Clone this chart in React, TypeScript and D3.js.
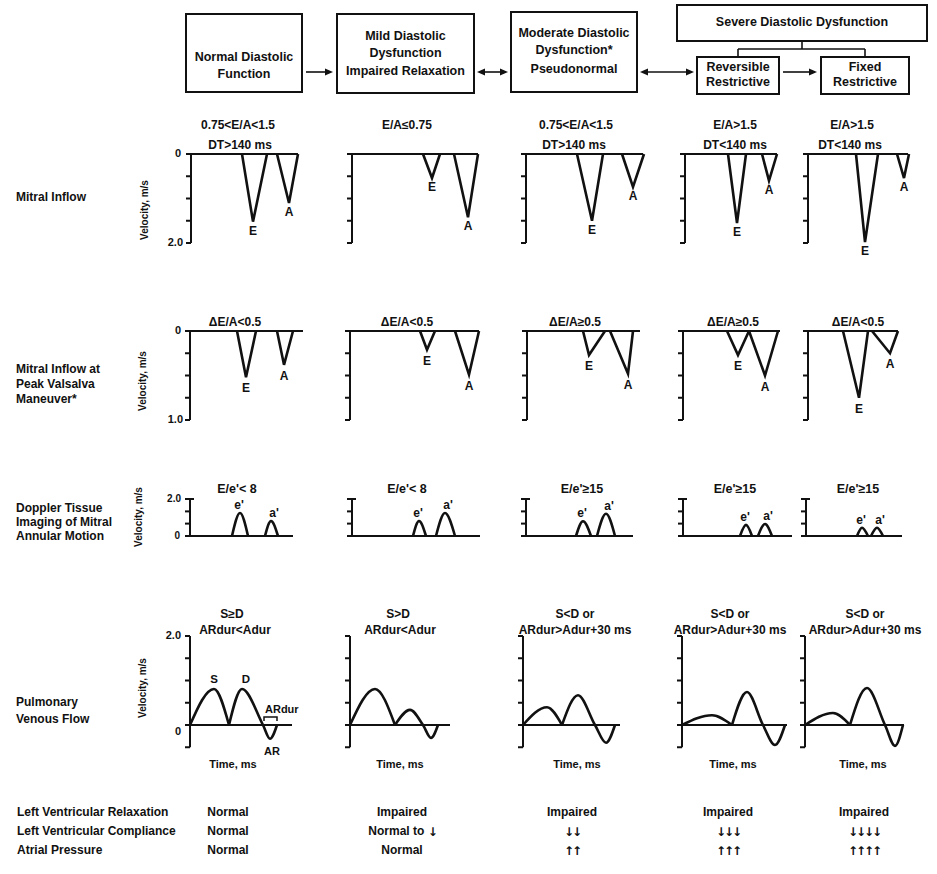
import React from "react";
import * as d3 from "d3";

// ---------- DATA ----------
// Mitral inflow (velocity m/s, time units from panel origin): [start, peakTime, end, peakVelocity]
const mitralEnd = [107, 126, 117, 92, 100];
const mitralE = [[51, 62, 76, 1.52], [71, 80, 88, 0.54], [51, 66, 77, 1.5], [43, 52, 61, 1.55], [48, 57, 70, 1.98]];
const mitralA = [[86, 98, 107, 1.1], [102, 116, 126, 1.42], [96, 107, 118, 0.74], [77, 84, 92, 0.6], [89, 96, 101, 0.54]];
const mitralTicks = [0, 0.5, 1, 1.5, 2];

// Mitral inflow at peak Valsalva
const valsalvaEnd = [113, 129, 113, 97, 90];
const valsalvaE = [[47, 56, 66, 0.52], [70, 77, 85, 0.21], [56, 62, 78, 0.27], [44, 55, 66, 0.27], [35, 51, 60, 0.75]];
const valsalvaA = [[87, 94, 103, 0.38], [105, 119, 129, 0.49], [83, 101, 106, 0.48], [66, 82, 95, 0.5], [64, 82, 90, 0.25]];
const valsalvaTicks = [0, 0.25, 0.5, 0.75, 1];

// Doppler tissue imaging
const dtiEnd = [103, 128, 107, 109, 96];
const dtiE = [[42, 50, 58, 1.24], [61, 67, 74, 0.81], [50, 57, 65, 0.8], [57, 63, 69, 0.6], [51, 56, 62, 0.45]];
const dtiA = [[75, 81, 88, 0.81], [84, 93, 103, 1.24], [71, 80, 89, 1.2], [75, 82, 89, 0.65], [65, 71, 77, 0.45]];
const dtiTicks = [0, 0.67, 1.33, 2];

// Pulmonary venous flow
const pvEnd = [102, 100, 97, 105, 99];
const pvS = [[0, 24, 39, 0.81], [0, 25, 45, 0.81], [0, 24, 39, 0.4], [0, 30, 50, 0.22], [0, 28, 45, 0.27]];
const pvD = [[39, 52, 73, 0.81], [45, 60, 73, 0.34], [39, 55, 72, 0.67], [50, 65, 81, 0.74], [45, 62, 80, 0.83]];
const pvAR = [[80, 87, -0.31], [81, 88, -0.29], [83, 92, -0.4], [93, 103, -0.45], [90, 98, -0.47]];
const pvTicks = [-0.5, 0, 0.5, 1, 1.5, 2];

// Texts
const stageBoxes = [
  ["Normal Diastolic", "Function"],
  ["Mild Diastolic", "Dysfunction", "Impaired Relaxation"],
  ["Moderate Diastolic", "Dysfunction*", "Pseudonormal"],
  ["Severe Diastolic Dysfunction"],
  ["Reversible", "Restrictive"],
  ["Fixed", "Restrictive"],
];
const mitralSub1 = ["0.75<E/A<1.5", "E/A≤0.75", "0.75<E/A<1.5", "E/A>1.5", "E/A>1.5"];
const mitralSub2 = ["DT>140 ms", "", "DT>140 ms", "DT<140 ms", "DT<140 ms"];
const valsalvaSub = ["ΔE/A<0.5", "ΔE/A<0.5", "ΔE/A≥0.5", "ΔE/A≥0.5", "ΔE/A<0.5"];
const dtiSub = ["E/e'< 8", "E/e'< 8", "E/e'≥15", "E/e'≥15", "E/e'≥15"];
const pvSub1 = ["S≥D", "S>D", "S<D or", "S<D or", "S<D or"];
const pvSub2 = ["ARdur<Adur", "ARdur<Adur", "ARdur>Adur+30 ms", "ARdur>Adur+30 ms", "ARdur>Adur+30 ms"];
const rowHeaders = [
  ["Mitral Inflow"],
  ["Mitral Inflow at", "Peak Valsalva", "Maneuver*"],
  ["Doppler Tissue", "Imaging of Mitral", "Annular Motion"],
  ["Pulmonary", "Venous Flow"],
];
const tableLabels = ["Left Ventricular Relaxation", "Left Ventricular Compliance", "Atrial Pressure"];
const relaxation = ["Normal", "Impaired", "Impaired", "Impaired", "Impaired"];
const compliance = ["Normal", "Normal to ↓", "↓↓", "↓↓↓", "↓↓↓↓"];
const atrialPressure = ["Normal", "Normal", "↑↑", "↑↑↑", "↑↑↑↑"];

// ---------- LAYOUT ----------
const FONT = "'Liberation Sans', Arial, Helvetica, sans-serif";
const ARROW_FONT = "'DejaVu Sans', sans-serif";
const row1X = [191, 352, 526, 685, 808];
const row2X = [190, 350, 527, 683, 808];
const row3X = [190, 352, 526, 683, 806];
const row4X = [190, 350, 523, 682, 805];
const sub1X = [238, 407, 576, 735, 852];
const sub1bX = [240, 407, 574, 735, 850];
const sub2X = [235, 407, 575, 733, 858];
const sub3X = [237, 407, 582, 735, 858];
const sub4X = [232, 398, 575, 730, 865];
const sub4bX = [235, 400, 575, 730, 865];
const timeX = [233, 400, 577, 733, 863];
const tableColX = [228, 402, 572, 728, 864];

const boxLayout = [
  { x: 186, y: 14, w: 116, h: 78, ly: [58, 75] },
  { x: 337, y: 14, w: 137, h: 79, ly: [37, 54, 72] },
  { x: 511, y: 12, w: 126, h: 80, ly: [34, 51, 70] },
  { x: 677, y: 5, w: 250, h: 36, ly: [23] },
  { x: 697, y: 57, w: 82, h: 37, ly: [68, 83] },
  { x: 821, y: 57, w: 88, h: 37, ly: [68, 83] },
];

const y1 = d3.scaleLinear().domain([0, 2]).range([154, 243]);
const y2 = d3.scaleLinear().domain([0, 1]).range([331, 420]);
const y3 = d3.scaleLinear().domain([0, 2]).range([536, 499]);
const y4 = d3.scaleLinear().domain([-0.5, 2]).range([747.25, 636]);

const lineStraight = d3.line<[number, number]>();
const lineSmooth = d3.line<[number, number]>().curve(d3.curveMonotoneX);

function xs(x0: number, end: number) {
  return d3.scaleLinear().domain([0, end]).range([x0, x0 + end]);
}

const T = (props: any) => (
  <text fontFamily={FONT} fontWeight="bold" fontSize={12} fill="#111" dominantBaseline="middle" {...props} />
);

// split text so arrow glyphs use a font that has them
function withArrows(s: string) {
  const parts = s.split(/([↑↓]+)/).filter((p) => p.length > 0);
  return parts.map((p, i) =>
    /[↑↓]/.test(p) ? (
      <tspan key={i} fontFamily={ARROW_FONT} fontWeight="bold" letterSpacing={-2}>
        {p}
      </tspan>
    ) : (
      <tspan key={i}>{p}</tspan>
    )
  );
}

function DownAxis({ x0, end, ys, ticks }: any) {
  const xsc = xs(x0, end);
  return (
    <g stroke="#111" strokeWidth={2} fill="none">
      <line x1={x0 - 5} x2={xsc(end)} y1={ys(0)} y2={ys(0)} />
      <line x1={x0} x2={x0} y1={ys(0)} y2={ys(ticks[ticks.length - 1])} />
      {ticks.map((t: number, i: number) => (
        <line key={i} x1={x0 - 5} x2={x0} y1={ys(t)} y2={ys(t)} />
      ))}
    </g>
  );
}

function MitralPanel({ x0, end, ys, e, a, labelOff }: any) {
  const xsc = xs(x0, end);
  const pk = (p: number[]) =>
    lineStraight([[xsc(p[0]), ys(0)], [xsc(p[1]), ys(p[3])], [xsc(p[2]), ys(0)]]) as string;
  return (
    <g>
      <path d={pk(e)} fill="none" stroke="#111" strokeWidth={2.6} strokeLinejoin="miter" />
      <path d={pk(a)} fill="none" stroke="#111" strokeWidth={2.6} strokeLinejoin="miter" />
      <T x={xsc(e[1])} y={ys(e[3]) + labelOff} textAnchor="middle" fontSize={12}>E</T>
      <T x={xsc(a[1])} y={ys(a[3]) + labelOff} textAnchor="middle" fontSize={12}>A</T>
    </g>
  );
}

function Arrow({ x1, x2, y, both }: any) {
  const h = 5;
  return (
    <g>
      <line x1={x1 + (both ? 3 : 0)} x2={x2 - 3} y1={y} y2={y} stroke="#111" strokeWidth={1.6} />
      <path d={`M${x2},${y} L${x2 - 8},${y - h / 1.4} L${x2 - 8},${y + h / 1.4} Z`} fill="#111" />
      {both && <path d={`M${x1},${y} L${x1 + 8},${y - h / 1.4} L${x1 + 8},${y + h / 1.4} Z`} fill="#111" />}
    </g>
  );
}

export default function App() {
  return (
    <svg
      width={937}
      height={874}
      viewBox="0 0 937 874"
      style={{ position: "absolute", left: 0, top: 0, background: "#fff" }}
    >
      <rect x={0} y={0} width={937} height={874} fill="#fff" />

      {/* Stage boxes */}
      {stageBoxes.map((lines, i) => {
        const b = boxLayout[i];
        return (
          <g key={i}>
            <rect x={b.x} y={b.y} width={b.w} height={b.h} fill="none" stroke="#111" strokeWidth={2} />
            {lines.map((l, j) => (
              <T key={j} x={b.x + b.w / 2} y={b.ly[j]} textAnchor="middle" fontSize={12.5}>
                {l}
              </T>
            ))}
          </g>
        );
      })}
      {/* connector severe -> sub boxes */}
      <g stroke="#111" strokeWidth={1.6} fill="none">
        <line x1={802} x2={802} y1={41} y2={49} />
        <line x1={738} x2={865} y1={49} y2={49} />
        <line x1={738} x2={738} y1={49} y2={57} />
        <line x1={865} x2={865} y1={49} y2={57} />
      </g>
      <Arrow x1={306} x2={333} y={72} />
      <Arrow x1={477} x2={508} y={72} both />
      <Arrow x1={640} x2={694} y={72} both />
      <Arrow x1={783} x2={817} y={72} />

      {/* Row headers */}
      {[[198], [370, 385, 400], [509, 523, 537], [703, 720]].map((ys, r) =>
        ys.map((yy, j) => (
          <T key={`${r}-${j}`} x={16} y={yy} fontSize={12}>
            {rowHeaders[r][j]}
          </T>
        ))
      )}

      {/* Y axis titles */}
      {[
        [145, 210],
        [143, 381],
        [139, 517],
        [143, 688],
      ].map(([x, y], i) => (
        <T key={i} x={x} y={y} fontSize={10} textAnchor="middle" transform={`rotate(-90 ${x} ${y})`}>
          Velocity, m/s
        </T>
      ))}

      {/* Tick labels for first column */}
      <T x={181} y={y1(0)} fontSize={11} textAnchor="end">0</T>
      <T x={183} y={y1(2)} fontSize={11} textAnchor="end">2.0</T>
      <T x={181} y={y2(0)} fontSize={11} textAnchor="end">0</T>
      <T x={183} y={y2(1)} fontSize={11} textAnchor="end">1.0</T>
      <T x={181} y={y3(2)} fontSize={10} textAnchor="end">2.0</T>
      <T x={180} y={y3(0)} fontSize={10} textAnchor="end">0</T>
      <T x={181} y={y4(2)} fontSize={11} textAnchor="end">2.0</T>
      <T x={181} y={y4(0) + 7} fontSize={11} textAnchor="end">0</T>

      {/* Row 1: Mitral inflow */}
      {row1X.map((x0, i) => (
        <g key={`r1-${i}`}>
          <T x={sub1X[i]} y={126} textAnchor="middle">{mitralSub1[i]}</T>
          {mitralSub2[i] && <T x={sub1bX[i]} y={146} textAnchor="middle">{mitralSub2[i]}</T>}
          <DownAxis x0={x0} end={mitralEnd[i]} ys={y1} ticks={mitralTicks} />
          <MitralPanel x0={x0} end={mitralEnd[i]} ys={y1} e={mitralE[i]} a={mitralA[i]} labelOff={10} />
        </g>
      ))}

      {/* Row 2: Valsalva */}
      {row2X.map((x0, i) => (
        <g key={`r2-${i}`}>
          <T x={sub2X[i]} y={323} textAnchor="middle">{valsalvaSub[i]}</T>
          <DownAxis x0={x0} end={valsalvaEnd[i]} ys={y2} ticks={valsalvaTicks} />
          <MitralPanel x0={x0} end={valsalvaEnd[i]} ys={y2} e={valsalvaE[i]} a={valsalvaA[i]} labelOff={12} />
        </g>
      ))}

      {/* Row 3: DTI */}
      {row3X.map((x0, i) => {
        const xsc = xs(x0, dtiEnd[i]);
        const hump = (p: number[]) =>
          lineSmooth([[xsc(p[0]), y3(0)], [xsc(p[1]), y3(p[3])], [xsc(p[2]), y3(0)]]) as string;
        return (
          <g key={`r3-${i}`}>
            <T x={sub3X[i]} y={490} textAnchor="middle" fontSize={12.5}>{dtiSub[i]}</T>
            <g stroke="#111" strokeWidth={2} fill="none">
              <line x1={x0 - 5} x2={xsc(dtiEnd[i])} y1={y3(0)} y2={y3(0)} />
              <line x1={x0} x2={x0} y1={y3(0)} y2={y3(2)} />
              {dtiTicks.map((t, k) => (
                <line key={k} x1={x0 - 5} x2={x0 + (k === dtiTicks.length - 1 ? 4 : 0)} y1={y3(t)} y2={y3(t)} />
              ))}
            </g>
            <path d={hump(dtiE[i])} fill="none" stroke="#111" strokeWidth={2.6} />
            <path d={hump(dtiA[i])} fill="none" stroke="#111" strokeWidth={2.6} />
            <T x={xsc(dtiE[i][1]) - 1} y={y3(dtiE[i][3]) - 7} textAnchor="middle" fontSize={12}>e'</T>
            <T x={xsc(dtiA[i][1]) + 3} y={y3(dtiA[i][3]) - 7} textAnchor="middle" fontSize={12}>a'</T>
          </g>
        );
      })}

      {/* Row 4: Pulmonary venous flow */}
      {row4X.map((x0, i) => {
        const xsc = xs(x0, pvEnd[i]);
        const s = pvS[i];
        const d = pvD[i];
        const ar = pvAR[i];
        const sPath = lineSmooth([[xsc(s[0]), y4(0)], [xsc(s[1]), y4(s[3])], [xsc(s[2]), y4(0)]]) as string;
        const dPath = lineSmooth([
          [xsc(d[0]), y4(0)],
          [xsc(d[1]), y4(d[3])],
          [xsc(d[2]), y4(0)],
          [xsc(ar[0]), y4(ar[2])],
          [xsc(ar[1]), y4(0)],
        ]) as string;
        return (
          <g key={`r4-${i}`}>
            <T x={sub4X[i]} y={615} textAnchor="middle">{pvSub1[i]}</T>
            <T x={sub4bX[i]} y={631} textAnchor="middle">{pvSub2[i]}</T>
            <g stroke="#111" strokeWidth={2} fill="none">
              <line x1={x0 - 5} x2={xsc(pvEnd[i])} y1={y4(0)} y2={y4(0)} />
              <line x1={x0} x2={x0} y1={y4(2)} y2={y4(-0.5)} />
              {pvTicks.map((t, k) => (
                <line key={k} x1={x0 - 5} x2={x0} y1={y4(t)} y2={y4(t)} />
              ))}
            </g>
            <path d={sPath} fill="none" stroke="#111" strokeWidth={2.6} />
            <path d={dPath} fill="none" stroke="#111" strokeWidth={2.6} />
            <T x={timeX[i]} y={765} textAnchor="middle" fontSize={11}>Time, ms</T>
            {i === 0 && (
              <g>
                <T x={xsc(s[1])} y={y4(s[3]) - 9} textAnchor="middle" fontSize={11.5}>S</T>
                <T x={xsc(d[1]) + 4} y={y4(d[3]) - 9} textAnchor="middle" fontSize={11.5}>D</T>
                <T x={xsc(d[2]) + 2} y={710} fontSize={11}>ARdur</T>
                <path
                  d={`M${xsc(d[2]) + 1},${721} L${xsc(d[2]) + 1},${717} L${xsc(ar[1])},${717} L${xsc(ar[1])},${721}`}
                  fill="none"
                  stroke="#111"
                  strokeWidth={1.5}
                />
                <T x={xsc(ar[0]) + 2} y={752} textAnchor="middle" fontSize={11}>AR</T>
              </g>
            )}
          </g>
        );
      })}

      {/* Bottom table */}
      {[relaxation, compliance, atrialPressure].map((vals, r) => {
        const yy = 813 + r * 19;
        return (
          <g key={`tb-${r}`}>
            <T x={17} y={yy} fontSize={12}>{tableLabels[r]}</T>
            {vals.map((v, c) => (
              <T key={c} x={tableColX[c]} y={yy} textAnchor="middle" fontSize={12}>
                {withArrows(v)}
              </T>
            ))}
          </g>
        );
      })}
    </svg>
  );
}
